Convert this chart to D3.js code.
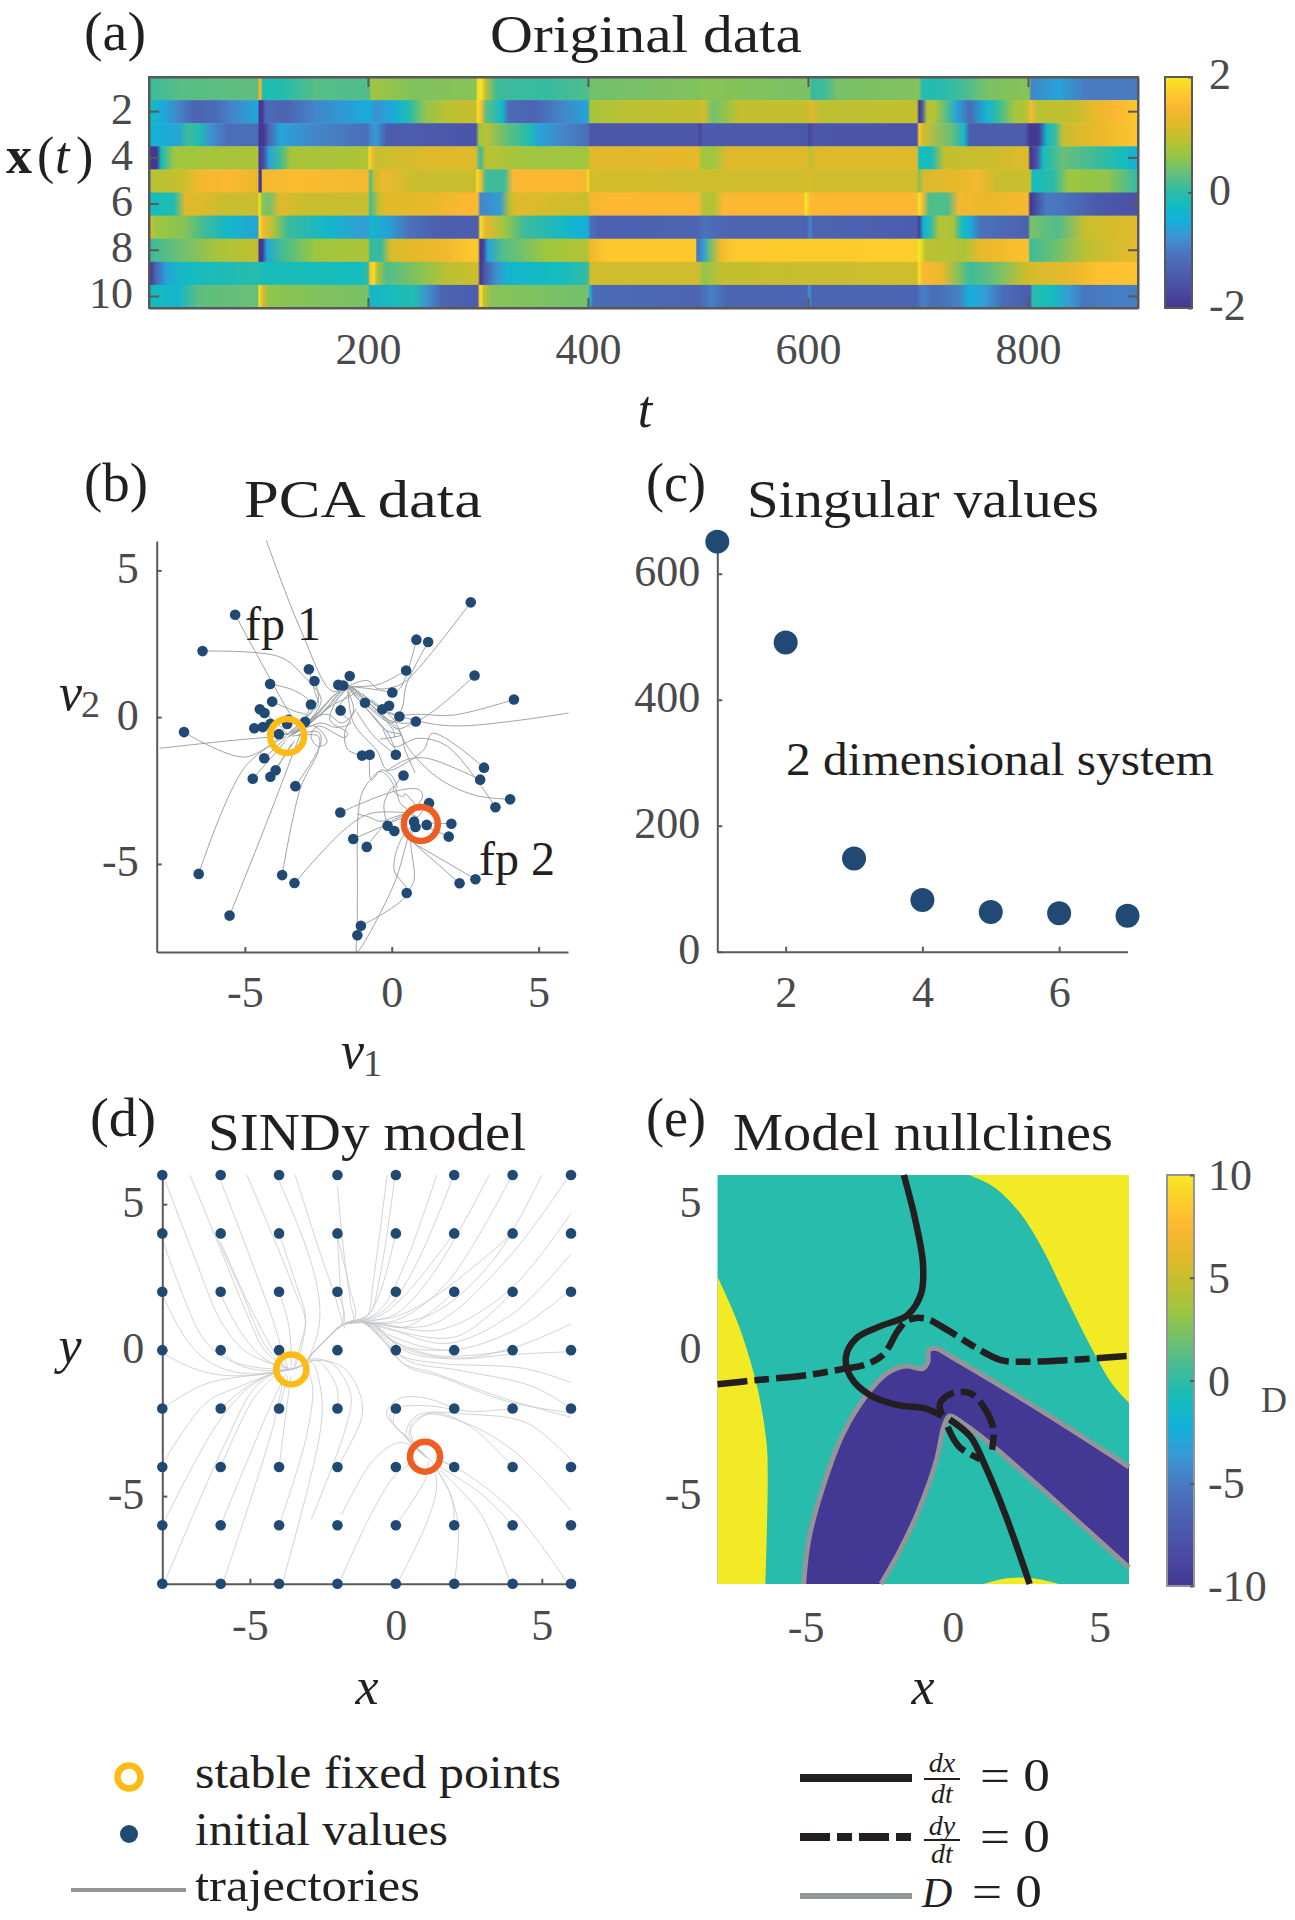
<!DOCTYPE html>
<html>
<head>
<meta charset="utf-8">
<script src="https://cdn.jsdelivr.net/npm/d3@7"></script>
<style>
body { margin: 0; background: #fff; }
text { font-family: "Liberation Serif", serif; }
</style>
</head>
<body>
<div id="chart"></div>
<script>
// panel (a): one [t, value] stop list per state variable, colour between stops is smooth
const row1 = [[1,0.1],[30,0.25],[98,0.3],[99,1.3],[101,1.3],[102,-0.1],[120,-0.1],[150,0.25],[199,0.2],[201,0.7],[240,0.5],[296,0.55],[298,1.9],[301,1.9],[305,0.9],[315,0.1],[360,0.05],[398,0.2],[400,0.4],[450,0.45],[498,0.5],[503,0.55],[600,0.45],[601,0.05],[612,0.1],[625,0.45],[699,0.5],[702,-0.1],[720,-0.05],[745,0.2],[760,0.45],[799,0.55],[801,-0.9],[825,-0.6],[850,-1.0],[900,-1.0]];
const row2 = [[1,-0.2],[10,-0.5],[25,-0.9],[40,-1.3],[60,-1.2],[75,-0.9],[98,-0.55],[99,-2],[102,-2],[105,-1.2],[125,-1.3],[150,-0.9],[199,-0.5],[205,-0.8],[222,-0.5],[235,-0.1],[250,0.6],[270,0.9],[296,1.0],[298,1.9],[301,1.5],[305,0.3],[320,-0.3],[326,-1.2],[350,-1.3],[375,-0.9],[398,-0.6],[400,0.75],[430,0.9],[498,0.95],[503,1.1],[512,0.4],[522,0.6],[535,0.95],[597,0.95],[600,1.2],[610,0.9],[697,0.95],[699,-2],[702,-1.5],[706,0.8],[712,0.9],[725,0.2],[733,-0.6],[745,-1.2],[760,-0.4],[770,0.0],[785,0.7],[798,0.9],[800,1.5],[806,0.9],[840,0.95],[860,1.3],[880,1.5],[900,1.7]];
const row3 = [[1,-0.4],[25,-0.6],[35,0.1],[45,-0.1],[55,-0.8],[70,-1.15],[98,-1.15],[99,-2],[103,-2],[108,-1.3],[118,-0.6],[150,-0.9],[198,-1.15],[200,-0.9],[205,-0.7],[215,-1.4],[260,-1.45],[296,-1.55],[299,0.7],[305,0.9],[325,0.3],[345,-0.1],[352,-0.6],[375,-0.9],[398,-1.15],[400,-1.5],[498,-1.5],[500,-1.8],[502,-1.45],[597,-1.5],[599,-1.8],[603,-1.5],[697,-1.55],[699,1.7],[702,1.1],[730,0.3],[740,-0.3],[745,-1.4],[795,-1.4],[800,-2],[808,-1.9],[815,-0.3],[823,0.1],[830,1.0],[860,1.3],[900,1.65]];
const row4 = [[1,-2],[6,-2],[10,-0.2],[22,0.7],[60,0.75],[98,0.8],[99,-2],[103,-1.7],[108,-0.6],[118,0.1],[128,0.75],[198,0.8],[199,1.9],[202,1.4],[205,1.0],[260,1.2],[296,1.2],[300,0.0],[305,0.9],[340,0.7],[398,0.7],[400,1.2],[498,1.25],[502,0.7],[512,0.7],[525,1.2],[597,1.2],[600,0.9],[605,1.2],[697,1.2],[699,-0.2],[710,-0.2],[722,0.95],[760,1.0],[798,1.2],[800,-2],[806,-1.6],[812,-0.2],[830,0.35],[860,0.1],[885,-0.2],[900,-0.5]];
const row5 = [[1,0.85],[30,1.0],[45,1.4],[70,1.5],[98,1.3],[99,-2],[101,-2],[102,1.4],[130,1.55],[198,1.4],[200,0.2],[204,1.0],[212,1.35],[240,1.0],[296,1.0],[297,1.9],[301,1.3],[305,0.1],[322,0.1],[330,1.5],[380,1.5],[396,1.4],[398,1.9],[400,1.1],[498,1.05],[597,1.05],[600,1.2],[603,1.05],[697,1.05],[699,0.5],[703,1.15],[740,1.3],[752,1.4],[770,1.0],[800,1.0],[802,-0.2],[822,0.0],[835,0.7],[870,0.6],[890,0.2],[900,0.0]];
const row6 = [[1,-0.2],[22,-0.1],[32,1.2],[50,1.15],[65,1.0],[98,1.0],[99,1.95],[102,0.6],[108,0.4],[118,1.2],[140,1.0],[198,1.0],[200,0.1],[208,0.95],[214,1.2],[260,1.3],[285,1.5],[298,1.5],[300,-0.9],[318,-0.7],[327,0.9],[333,1.2],[398,1.0],[400,1.4],[415,1.5],[498,1.5],[503,0.85],[512,0.85],[522,1.5],[594,1.5],[596,2.0],[600,1.5],[697,1.5],[699,2.0],[702,1.5],[708,0.2],[725,0.2],[735,1.4],[760,1.3],[798,1.45],[800,-2],[815,-1.0],[830,-1.1],[860,-1.45],[900,-1.6]];
const row7 = [[1,1.1],[4,0.7],[30,0.55],[50,0.1],[70,-0.3],[98,-0.6],[99,1.9],[103,1.4],[112,0.8],[125,0.1],[160,-0.3],[198,-0.7],[200,-0.3],[215,-0.6],[235,-1.1],[260,-1.35],[298,-1.4],[300,1.9],[305,1.3],[322,0.7],[340,0.1],[380,-0.3],[398,-0.5],[400,-1.1],[408,-1.35],[498,-1.3],[503,-1.1],[525,-1.3],[597,-1.3],[600,-0.9],[603,-1.3],[697,-1.4],[699,-1.9],[703,-0.4],[710,0.0],[717,0.85],[730,0.8],[738,-0.2],[745,-0.5],[755,-1.1],[798,-1.35],[800,0.45],[825,0.2],[850,1.0],[900,1.2]];
const row8 = [[1,0.1],[30,0.4],[60,0.75],[98,0.95],[99,-2],[102,-2],[106,-0.6],[118,0.1],[150,0.7],[198,0.8],[200,0.05],[210,0.05],[218,1.1],[240,1.25],[270,1.4],[290,1.7],[298,1.7],[300,-2],[303,-1.8],[307,-0.6],[320,0.2],[360,0.7],[398,0.85],[400,1.35],[415,1.7],[496,1.7],[497,-1.1],[503,-0.7],[508,0.3],[518,1.35],[530,1.7],[697,1.75],[699,2.0],[705,0.9],[740,0.8],[755,1.3],[798,1.6],[800,0.1],[825,0.4],[850,0.9],[900,1.3]];
const row9 = [[1,-1.9],[5,-1.3],[15,-0.6],[28,-0.25],[98,-0.05],[101,-0.15],[190,-0.2],[198,0.0],[200,1.6],[203,1.9],[206,0.9],[215,0.2],[250,0.6],[270,0.9],[298,1.05],[300,-2],[305,-1.4],[315,-0.8],[325,-0.35],[375,-0.2],[398,0.05],[400,1.05],[498,1.05],[503,0.6],[520,0.95],[697,1.05],[699,1.95],[702,1.5],[720,1.3],[735,0.5],[745,0.1],[770,0.4],[795,1.0],[800,1.1],[840,1.3],[860,1.6],[900,1.65]];
const row10 = [[1,-0.2],[25,-0.35],[45,0.3],[98,0.35],[99,2.0],[102,1.2],[108,0.6],[150,0.5],[198,0.45],[200,-0.3],[240,-0.1],[252,-0.8],[265,-1.3],[298,-1.4],[299,1.5],[301,2.0],[303,1.0],[310,0.55],[398,0.4],[400,-0.5],[403,-1.2],[498,-1.3],[510,-0.95],[525,-1.3],[597,-1.3],[599,-0.7],[602,-1.3],[697,-1.3],[702,-0.95],[712,-1.2],[735,-0.95],[745,-0.45],[760,-0.7],[775,-1.2],[800,-1.4],[802,-0.05],[820,-0.2],[835,-0.7],[850,-1.05],[880,-0.95],[900,-1.0]];
const heatRows = [row1,row2,row3,row4,row5,row6,row7,row8,row9,row10];
const rowIds = [1,2,3,4,5,6,7,8,9,10];
const rowTicks = [2,4,6,8,10];
const timeTicks = [200,400,600,800];

// colour bar stops as seen in the bar (value, colour)
const cmapValues = [-2,-1.7,-1.35,-1.05,-0.76,-0.47,-0.19,0.1,0.39,0.68,0.96,1.25,1.5,1.7,2];
const cmapColors = ["#433792","#4a4aa2","#4c60b0","#4a75be","#3c95d4","#13b0dc","#14bcbc","#3dbb9a","#70c070","#9cc63f","#c4bf2e","#e6b82a","#fcb833","#fdc82c","#f5e923"];

// panel (b)
const pcaDots = [[-5.33,3.49],[2.69,3.91],[-6.44,2.25],[0.84,2.64],[1.24,2.56],[-2.82,1.63],[0.49,1.59],[-2.63,1.23],[-1.43,1.40],[2.82,1.42],[-4.14,1.13],[-1.82,1.10],[-1.65,1.08],[0.02,0.84],[-4.07,0.53],[-2.75,0.43],[-0.91,0.49],[-4.49,0.27],[-4.33,0.14],[4.16,0.60],[-0.09,0.39],[-0.32,0.27],[-1.74,0.23],[0.26,0.02],[0.82,-0.15],[-3.51,-0.09],[-2.95,-0.16],[-4.68,-0.38],[-4.39,-0.34],[-4.13,-0.23],[-3.56,-0.23],[-3.84,-0.58],[-7.07,-0.51],[-4.34,-1.40],[-1.01,-1.31],[-0.75,-1.28],[0.14,-1.28],[3.14,-1.72],[-3.95,-1.81],[-4.73,-2.10],[-4.13,-2.03],[0.40,-1.99],[3.01,-2.13],[-3.28,-2.35],[4.03,-2.80],[1.27,-2.93],[3.53,-3.07],[-1.75,-3.25],[2.03,-3.63],[1.19,-3.67],[0.76,-3.56],[0.81,-3.74],[-0.14,-3.70],[0.09,-3.88],[1.94,-4.07],[-1.31,-4.15],[-0.85,-4.42],[-6.57,-5.34],[-3.73,-5.38],[-3.31,-5.65],[2.85,-5.52],[2.31,-5.66],[0.51,-5.99],[-5.52,-6.76],[-1.05,-7.11],[-1.17,-7.43]];
const pcaPaths = [
  [[-4.27,6.02],[-3.1,2.98],[-2.02,0.88],[-1.5,1.05],[-2.3,0.2],[-3.3,-0.5]],
  [[6.02,0.14],[4,-0.15],[2.3,-0.3],[1.2,-0.2],[-0.3,0.25],[-1.5,1.0],[-2.4,0.1],[-3.4,-0.6]],
  [[-7.9,-1.06],[-5.5,-0.8],[-3.9,-0.64],[-3.3,-0.5]],
  [[-7.07,-0.51],[-5,-1.36],[-3.7,-0.6]],
  [[-6.57,-5.34],[-5,-1.7],[-3.6,-0.65]],
  [[-5.52,-6.76],[-4.3,-3.7],[-3.1,-0.55]],
  [[-3.73,-5.38],[-3.1,-2.4],[-2.5,-1.15],[-2.5,-0.65],[-3.4,-0.65]],
  [[-3.28,-2.35],[-2.6,-1.3],[-2.4,-0.8],[-2.5,-0.5],[-3.2,-0.6]],
  [[-6.44,2.25],[-3.8,2.05],[-3,1.4],[-2.4,0.6],[-2.8,-0.1],[-3.4,-0.55]],
  [[-5.33,3.49],[-3.55,0.25],[-3.2,-0.3]],
  [[-2.82,1.63],[-2.6,0.8],[-2.5,0.45],[-3,-0.1]],
  [[-2.63,1.23],[-2.5,0.6],[-3.1,-0.2]],
  [[-4.14,1.13],[-3.3,0.9],[-2.8,0.5],[-3,-0.1],[-3.5,-0.5]],
  [[-4.07,0.53],[-3.3,0.2],[-2.9,0.05],[-3.5,-0.55]],
  [[-4.49,0.27],[-3.8,-0.3],[-3.55,-0.6]],
  [[-4.68,-0.38],[-3.9,-0.5],[-3.5,-0.6]],
  [[-4.34,-1.4],[-3.6,-0.7]],
  [[-4.73,-2.1],[-3.6,-0.8]],
  [[-4.13,-2.03],[-3.3,-0.8]],
  [[-3.95,-1.81],[-3.4,-0.9]],
  [[-3.56,-0.7],[-2.7,-0.15],[-2,0.55],[-1.5,1.05],[-1.2,0.9],[-2.1,0.35],[-2.9,-0.3],[-3.5,-0.65]],
  [[-3.5,-0.65],[-2.65,-0.3],[-2.2,-0.85],[-2.5,-1],[-2.75,-0.65],[-2.5,-0.3],[-1.6,-0.7],[-1.5,-0.55],[-2.1,-0.1],[-1.85,0.6],[-1.5,1.05]],
  [[-3.3,-0.55],[-2.4,-0.2],[-1.9,-0.35],[-1.4,-0.2],[-1.8,0.3],[-1.3,0.95]],
  [[-2.9,-0.15],[-2.2,0.1],[-1.7,-0.2],[-1.3,0.2],[-1.5,0.9]],
  [[-3.6,-0.62],[-2.8,-0.1],[-2.2,0.5],[-1.7,0.95],[-1.4,1]],
  [[-3.4,-0.6],[-2.7,-0.05],[-2.1,0.6],[-1.6,1],[-1.3,1]],
  [[-3.2,-0.48],[-2.6,0],[-2,0.7],[-1.55,1.05]],
  [[-1.4,1.05],[-0.9,0.6],[-0.4,0.1],[0.05,-0.45],[0.1,-0.7]],
  [[-1.3,1],[-0.8,0.5],[-0.3,0.05],[0.2,-0.4],[0.85,-0.1]],
  [[-1.5,1],[-1,0.45],[-0.5,-0.1],[-0.1,-0.6],[0.15,-1.2]],
  [[2.69,3.91],[0.53,1.27],[0.05,1.02],[-0.5,0.98],[-0.82,1.25],[-1.5,1.05]],
  [[0.84,2.64],[0.3,1],[0,0.84],[-0.3,0.9],[-1,1],[-1.5,1.05]],
  [[1.24,2.56],[0.5,1.1],[0.35,0.3],[0,-0.2],[-0.9,0.45]],
  [[0.49,1.59],[-0.5,1.1],[-1.5,1.05]],
  [[2.82,1.42],[0.82,-0.15],[-0.1,-0.1],[-0.9,0.5],[-1.5,1.05]],
  [[4.16,0.6],[2.1,0.07],[0.9,0.1],[0,0.1],[-1,0.8]],
  [[-1.5,1.05],[-0.5,0.25],[0.3,-0.55],[0.45,-1.1],[0.8,-1.9]],
  [[-1.5,1.05],[-0.7,0.1],[-0.2,-0.45],[0.35,-0.6],[-0.4,-0.75]],
  [[3.14,-1.72],[1.39,-0.55],[1.1,-1.1],[0.5,-1.55],[-0.15,-1.8],[-0.5,-1.15],[-1.3,-0.2],[-1.5,1.05]],
  [[3.01,-2.13],[1.2,-1.4],[0.5,-1.45],[-0.2,-1.85]],
  [[4.03,-2.8],[2.8,-2.65],[1.55,-2.05],[0.53,-1],[0.08,-0.1],[-0.7,0.6]],
  [[3.53,-3.07],[1.9,-1],[0.9,-0.72],[0.08,-1],[-0.3,-0.4]],
  [[0.14,-1.28],[-0.6,-0.66],[-1.2,0.2]],
  [[-1.01,-1.31],[-1.5,-1.1],[-1.6,-0.55],[-1.2,0.3]],
  [[-0.75,-1.28],[-0.7,-2.15],[-0.35,-1.8],[0,-2],[0.2,-2.4]],
  [[-1.75,-3.25],[0.08,-2.53],[0.93,-2.47],[1.05,-2.7],[0.65,-3.28]],
  [[-0.14,-3.7],[-0.26,-2.94],[0.08,-2.36],[0.3,-2.94],[0.76,-3.28]],
  [[0.4,-1.99],[0.05,-2.5],[0.4,-2.7],[0.45,-2.6],[0.95,-3.2]],
  [[-1.31,-4.15],[0.65,-3.3]],
  [[-0.85,-4.42],[-0.26,-3.7],[0.53,-3.28]],
  [[-1.05,-7.11],[0.53,-5.99],[0.08,-5.2],[0.3,-4.2],[0.65,-3.75]],
  [[-1.17,-7.43],[-1.19,-8],[0.08,-5.68],[0.53,-4.2],[0.7,-3.75]],
  [[-1.17,-7.43],[-1.17,-6.1],[-1.05,-2.7],[-0.7,-2.1],[-0.4,-1.85],[-0.1,-2.05],[0.08,-2.36]],
  [[-1.17,-3.3],[-0.78,-3.4],[-0.4,-3.55],[0.1,-3.4],[0.5,-3.3],[0.9,-3.4]],
  [[-3.31,-5.65],[-1.62,-3.84],[-0.72,-3.28],[0.76,-3.28]],
  [[0.51,-5.99],[0.76,-5.55],[0.65,-4.2],[0.76,-3.75]],
  [[2.85,-5.52],[0.76,-4.3]],
  [[2.31,-5.66],[0.76,-4.3]],
  [[2.03,-3.63],[1.1,-3.6]],
  [[1.94,-4.07],[1.1,-3.7]],
  [[1.27,-2.93],[0.8,-3.5]]
];
const pcaFixed = [[-3.56,-0.64],[0.99,-3.64]];

// panel (c)
const svIndex = [1,2,3,4,5,6,7];
const svValues = [651,491,148,82,63,61,57];

// panel (d)
const gridX = [-8,-6,-4,-2,0,2,4,6];
const gridY = [6,4,2,0,-2,-4,-6,-8];
const hubToLeft = [[-1.85,0.85],[-2.4,0.35],[-2.85,-0.1],[-3.15,-0.48],[-3.58,-0.66]];
const modelPaths = [
  [[-7.9,5.8],[-6.9,3.2],[-6,1],[-5.2,0],[-4.3,-0.45],[-3.58,-0.66]],
  [[-8,3.8],[-7.3,1.9],[-6.6,0.4],[-5.8,-0.3],[-4.7,-0.6],[-3.58,-0.66]],
  [[-8,1.9],[-7.2,0.4],[-6.4,-0.4],[-5.2,-0.8],[-3.58,-0.66]],
  [[-8,-0.1],[-7,-0.6],[-6,-0.85],[-4.8,-0.85],[-3.58,-0.66]],
  [[-7.05,6],[-5.9,3.2],[-5,1],[-4.5,0],[-3.9,-0.5],[-3.58,-0.66]],
  [[-6,5.8],[-5,3.2],[-4.2,1],[-3.9,0],[-3.7,-0.6]],
  [[-6.1,3.8],[-5.2,1.8],[-4.5,0.2],[-3.9,-0.5]],
  [[-6,3.7],[-5,1.5],[-4.2,0],[-3.75,-0.6]],
  [[-6,1.9],[-5.3,0.6],[-4.5,-0.3],[-3.7,-0.62]],
  [[-6,0],[-5.4,-0.5],[-4.5,-0.7],[-3.7,-0.66]],
  [[-5.1,6],[-4,3.4],[-3.45,2],[-3.1,1],[-3.3,0.1],[-3.5,-0.6]],
  [[-4,5.8],[-3.1,3.6],[-2.7,2.2],[-2.6,1.2],[-2.7,0.5],[-2.95,-0.2]],
  [[-3.45,6],[-2.55,3.2],[-2.1,1.9],[-1.9,1.2],[-1.75,0.75]],
  [[-4,4],[-3.4,2.2],[-3.1,1.2],[-3.2,0.2],[-3.45,-0.55]],
  [[-4,2],[-3.7,1],[-3.6,0.2],[-3.58,-0.66]],
  [[-2,3.9],[-1.9,2.2],[-1.8,1.1],[-1.95,0.75]],
  [[-2,2],[-1.75,1.2],[-1.8,0.85]],
  [[-2,5.6],[-1.8,3.5],[-1.55,1.6],[-1.46,1],...hubToLeft],
  [[-2,3.9],[-1.6,2.2],[-1.4,1.1],...hubToLeft],
  [[-0.3,6],[-0.77,2.4],[-1,1.15],[-1.46,1],...hubToLeft],
  [[-0.03,5.95],[-0.55,2.5],[-0.9,1.25],[-1.46,1],...hubToLeft],
  [[1.4,6],[0.37,3.1],[-0.43,1.5],[-1.1,1.03],...hubToLeft],
  [[1.97,5.95],[0.6,2.75],[-0.32,1.43],[-1.2,1],...hubToLeft],
  [[3.2,6],[1.28,2.63],[0.03,1.26],[-1,0.97],...hubToLeft],
  [[3.96,5.95],[1.74,2.3],[0.03,1.03],[-1.2,0.95],...hubToLeft],
  [[5,6],[3.35,3.1],[1.28,1.26],[-0.55,0.9],[-1.46,1],...hubToLeft],
  [[5.85,5.85],[3.8,3.1],[1.28,0.9],[-0.77,0.9],[-1.46,1],...hubToLeft],
  [[6,4.7],[3.9,2.06],[1.5,0.7],[-0.55,0.9],[-1.46,1],...hubToLeft],
  [[6,3.3],[4,1.25],[1.73,0.23],[-0.43,0.8],[-1.46,1],...hubToLeft],
  [[5.85,1.95],[4.1,0.7],[1.85,0],[-0.1,0.46],[-1,0.98],...hubToLeft],
  [[6,0.9],[4.13,0.12],[2.08,-0.28],[0.14,0.12],[-0.9,0.92],...hubToLeft],
  [[6,-0.05],[3.8,-0.16],[2.08,-0.3],[0.37,-0.05],[-0.9,0.92],...hubToLeft],
  [[6,-1.1],[4.36,-0.62],[1.5,-0.45],[0.14,-0.17],[-0.66,0.58],[-1.23,0.98],...hubToLeft],
  [[6,-2],[4.7,-1.25],[2.1,-0.68],[0.5,-0.4],[-0.4,0.3],[-1.2,0.98],...hubToLeft],
  [[6,-2.15],[3.8,-1.75],[1.5,-0.9],[0.37,-0.55],[-0.43,0.35],[-1.1,0.95],...hubToLeft],
  [[6,-2.3],[3.7,-1.65],[1.3,-0.78],[0.25,-0.45],[-0.5,0.4],[-1.15,0.97],...hubToLeft],
  [[4,4],[1.5,1.95],[0,1.15],[-1.1,1],...hubToLeft],
  [[2,4],[0.37,1.95],[-0.5,1.2],[-1.2,1],...hubToLeft],
  [[0,4],[-0.55,1.95],[-1,1.15],[-1.46,1],...hubToLeft],
  [[2,2],[0.37,0.8],[-0.9,0.95],...hubToLeft],
  [[4,2],[2.1,0.47],[-0.2,0.7],[-1.1,0.95],...hubToLeft],
  [[4,0],[1.5,-0.2],[-0.1,0.3],[-1.1,0.95],...hubToLeft],
  [[2,0],[0.37,0.1],[-0.77,0.8],[-1.3,1],...hubToLeft],
  [[0,0],[-0.55,0.55],[-1.3,1],...hubToLeft],
  [[-8,-2],[-6.5,-1.15],[-4.4,-0.8],[-3.58,-0.66]],
  [[-7.9,-3.75],[-6.5,-1.8],[-5.35,-1.25],[-4.2,-0.8],[-3.58,-0.66]],
  [[-7.9,-5.8],[-6.1,-2.5],[-5,-1.25],[-4.1,-0.75],[-3.58,-0.66]],
  [[-7.9,-7.9],[-5.9,-3.3],[-4.8,-1.25],[-3.97,-0.7]],
  [[-6,-2],[-5.1,-1.25],[-4.2,-0.8]],
  [[-6,-4],[-4.9,-1.7],[-4.1,-0.8]],
  [[-5.9,-7.9],[-4.2,-2.6],[-3.85,-0.9]],
  [[-6,-6],[-4.2,-1.7],[-3.75,-0.8]],
  [[-4,-4],[-3.6,-0.9]],
  [[-4,-2],[-3.7,-0.9]],
  [[-3.85,-7.85],[-2.6,-2.85],[-2.55,-1.5],[-2.9,-0.4],[-3.3,-0.6]],
  [[-4,-6],[-3.1,-3.1],[-2.85,-1.3],[-3.1,-0.4]],
  [[-2,-4],[-1.17,-2.3],[-1.23,-1.5],[-1.8,-0.6],[-2.95,-0.3],[-3.3,-0.55]],
  [[-2,-2],[-2.03,-1.25],[-2.7,-0.35],[-3.2,-0.55]],
  [[-2.9,-5.8],[-1.7,-2.6],[-1.55,-1.5],[-2.2,-0.45],[-3,-0.35]],
  [[-1.86,-5.65],[-0.77,-3.76],[0.09,-3.17],[0.6,-3.3],[1,-3.65]],
  [[-1.92,-7.93],[-0.77,-5.47],[0.03,-4.23],[0.72,-3.77]],
  [[0.08,-7.93],[1.05,-5.93],[1.4,-4.67],[1.27,-3.87]],
  [[0,-6],[1.05,-4.33],[1.1,-3.8]],
  [[2.02,-7.87],[2.14,-6.04],[1.85,-4.9],[1.4,-4.1]],
  [[2,-6],[1.9,-5],[1.35,-4]],
  [[3.9,-7.93],[2.9,-5.6],[1.5,-4.1]],
  [[4,-6],[2.9,-4.9],[1.5,-4]],
  [[5.85,-7.93],[4.1,-5.6],[2.2,-4.1],[1.5,-3.8]],
  [[2,-4],[1.3,-3.65]],
  [[6,-3.75],[4.5,-2.5],[2.6,-2.2],[0.7,-2.25],[0.35,-2.95],[0.95,-3.6]],
  [[6,-5.5],[4.1,-3.5],[2.4,-2.5],[1.05,-2.2],[0.5,-2.6],[0.7,-3.3],[1,-3.65]],
  [[4,-4],[2.6,-2.65],[1.2,-2.15],[0.45,-2.85],[0.95,-3.6]],
  [[2,-2],[1.05,-1.65],[0.14,-1.65],[-0.32,-2.15],[0.25,-2.9],[1.27,-3.85]],
  [[0,-2],[-0.08,-2.5],[0.48,-3.07],[1.15,-3.75]],
  [[4,-2],[2.6,-2.1],[1,-1.9],[0,-2],[-0.2,-2.3],[0.5,-3.1],[1.1,-3.7]]
];
const modelFixed = [[-3.58,-0.66],[1,-3.65]];

// panel (e): contour lines
const yellowTopRight = [[0.55,6],[1.39,5.6],[2.3,4.69],[3.08,3.43],[3.85,1.83],[4.76,0.01],[5.41,-1.13],[6,-1.8]];
const yellowLeft = [[-8,2.52],[-7.3,0.92],[-6.65,-1.25],[-6.33,-3.19],[-6.29,-4.33],[-6.37,-8]];
const yellowBottom = [[1.07,-8],[1.65,-7.84],[2.3,-7.78],[2.95,-7.84],[3.6,-8]];
const dZeroUpper = [[-5.07,-8],[-4.9,-6.5],[-4.45,-4.79],[-3.73,-2.85],[-2.89,-1.48],[-2.24,-0.79],[-1.59,-0.54],[-1.01,-0.62],[-0.84,-0.39],[-0.81,0.01],[-0.55,0.06],[-0.04,-0.22],[3.08,-2.11],[6,-3.99]];
const dZeroLower = [[6,-7.44],[3.08,-4.79],[1.26,-3.19],[0.35,-2.5],[-0.1,-2.25],[-0.3,-2.62],[-0.55,-3.76],[-1.2,-5.59],[-1.85,-6.96],[-2.44,-8]];
const dxNull1 = [[-1.66,6],[-1.27,4.46],[-1.01,2.97],[-1.07,1.95],[-1.53,1.21],[-2.5,0.81],[-3.28,0.41],[-3.63,-0.22],[-3.47,-0.91],[-2.82,-1.53],[-1.85,-1.88],[-0.94,-1.99],[-0.36,-2.25]];
const dxNull2 = [[-0.1,-2.37],[0.61,-2.96],[1.07,-3.87],[1.78,-5.59],[2.62,-8]];
const dyNull1 = [[-8,-1.16],[-6.65,-1.02],[-4.96,-0.85],[-3.63,-0.62],[-3.02,-0.51],[-2.37,-0.16],[-1.85,0.69],[-1.53,1.03],[-0.94,1.09],[-0.17,0.69],[0.74,0.12],[1.65,-0.34],[2.56,-0.39],[3.85,-0.34],[6,-0.19]];
const dyNull2 = [[-0.36,-2.22],[-0.43,-1.82],[-0.04,-1.48],[0.61,-1.48],[1.13,-2.05],[1.39,-2.73],[1.33,-3.47]];
const dyNull3 = [[-0.17,-2.62],[0.22,-3.3],[0.94,-3.73]];

const axisTicks = [-5,0,5];
const svXTicks = [2,4,6];
const svYTicks = [0,200,400,600];
const heatBarTicks = [-2,0,2];
const dBarTicks = [-10,-5,0,5,10];

const width = 1295, height = 1920;
const ink = "#231f20", axisInk = "#58595b", labelInk = "#4a4a4c";
const dotBlue = "#204a74", amber = "#fdbb13", orange = "#ee5e22", lineGray = "#939598";
const fs = 44, bigFs = 52;
const cellShift = 2; // image cells sit slightly right of their t value

const svg = d3.select("#chart").append("svg")
    .attr("width", width).attr("height", height)
    .style("display", "block");
const defs = svg.append("defs");

const heatColor = d3.scaleLinear().domain(cmapValues).range(cmapColors).clamp(true);

function text(x, y, str, opts = {}) {
    const t = svg.append("text")
        .attr("x", x).attr("y", y)
        .attr("fill", opts.fill || ink)
        .attr("font-size", opts.size || fs)
        .attr("text-anchor", opts.anchor || "start")
        .text(str);
    if (opts.italic) t.attr("font-style", "italic");
    if (opts.bold) t.attr("font-weight", "bold");
    if (opts.len) t.attr("textLength", opts.len).attr("lengthAdjust", "spacingAndGlyphs");
    return t;
}

// shared tick styling: ticks point inside the frame, hyphen minus like the original labels
function styleAxis(g) {
    g.select(".domain").attr("stroke", axisInk).attr("stroke-width", 2);
    g.selectAll(".tick line").attr("stroke", axisInk).attr("stroke-width", 2);
    g.selectAll(".tick text")
        .attr("fill", labelInk)
        .attr("font-size", fs)
        .style("font-family", '"Liberation Serif", serif')
        .filter(function () { return d3.select(this).attr("dy") === "0.32em"; })
        .attr("dy", "0.27em");
    return g;
}

function fraction(cx, top, bottom, barY, a, b) {
    text(cx, top, a, {size: 28, italic: true, anchor: "middle"});
    text(cx, bottom, b, {size: 28, italic: true, anchor: "middle"});
    svg.append("line").attr("x1", cx - 18).attr("x2", cx + 18).attr("y1", barY).attr("y2", barY)
        .attr("stroke", ink).attr("stroke-width", 2);
}

// ---------- (a) original data
const xT = d3.scaleLinear().domain([1, 900]).range([149, 1138]);
const yRow = d3.scaleBand().domain(rowIds).range([77, 308]);

heatRows.forEach((stops, i) => {
    const grad = defs.append("linearGradient")
        .attr("id", "row" + i)
        .attr("gradientUnits", "userSpaceOnUse")
        .attr("x1", xT(1)).attr("x2", xT(900)).attr("y1", 0).attr("y2", 0);
    grad.selectAll("stop").data(stops).join("stop")
        .attr("offset", d => Math.min(1, (d[0] + cellShift - 1) / 899))
        .attr("stop-color", d => heatColor(d[1]));
});
svg.append("g").selectAll("rect").data(rowIds).join("rect")
    .attr("x", xT(1)).attr("width", xT(900) - xT(1))
    .attr("y", d => yRow(d)).attr("height", yRow.bandwidth() + 0.5)
    .attr("fill", (d, i) => `url(#row${i})`);
svg.append("rect").attr("x", xT(1)).attr("y", 77).attr("width", xT(900) - xT(1)).attr("height", 231)
    .attr("fill", "none").attr("stroke", axisInk).attr("stroke-width", 2);

svg.append("g").attr("transform", "translate(0,308)")
    .call(d3.axisBottom(xT).tickValues(timeTicks).tickSizeInner(-10).tickSizeOuter(0).tickPadding(25))
    .call(styleAxis);
svg.append("g").attr("transform", "translate(0,77)")
    .call(d3.axisTop(xT).tickValues(timeTicks).tickSizeInner(-10).tickSizeOuter(0).tickFormat(""))
    .call(styleAxis);
svg.append("g").attr("transform", "translate(149,0)")
    .call(d3.axisLeft(yRow).tickValues(rowTicks).tickSizeInner(-10).tickSizeOuter(0).tickPadding(16))
    .call(styleAxis);
svg.append("g").attr("transform", "translate(1138,0)")
    .call(d3.axisRight(yRow).tickValues(rowTicks).tickSizeInner(-10).tickSizeOuter(0).tickFormat(""))
    .call(styleAxis);

// colour bar of (a)
const yBarA = d3.scaleLinear().domain([-2, 2]).range([308, 77]);
const gradA = defs.append("linearGradient").attr("id", "barA")
    .attr("x1", 0).attr("x2", 0).attr("y1", 1).attr("y2", 0);
gradA.selectAll("stop").data(cmapValues).join("stop")
    .attr("offset", d => (d + 2) / 4)
    .attr("stop-color", d => heatColor(d));
svg.append("rect").attr("x", 1165).attr("y", 77).attr("width", 27).attr("height", 231)
    .attr("fill", "url(#barA)").attr("stroke", axisInk).attr("stroke-width", 2);
svg.append("g").attr("transform", "translate(1192,0)")
    .call(d3.axisRight(yBarA).tickValues(heatBarTicks).tickSizeInner(-4).tickSizeOuter(0).tickPadding(17).tickFormat(String))
    .call(styleAxis)
    .call(g => g.select(".domain").remove());

text(84, 50, "(a)", {size: 54, len: 62});
text(646, 52, "Original data", {anchor: "middle", size: bigFs, len: 312});
text(645, 427, "t", {italic: true, anchor: "middle", size: bigFs});
text(6, 173, "x", {bold: true, size: bigFs});
text(37, 173, "(", {size: bigFs});
text(55, 173, "t", {italic: true, size: bigFs});
text(76, 173, ")", {size: bigFs});

// ---------- (b) PCA data
const xB = d3.scaleLinear().domain([-8, 6]).range([156.7, 568]);
const yB = d3.scaleLinear().domain([-8, 6]).range([952, 541]);

svg.append("g").attr("fill", "none").attr("stroke", "#a0a2a5").attr("stroke-width", 1)
    .selectAll("path").data(pcaPaths).join("path")
    .attr("d", d3.line().curve(d3.curveCatmullRom.alpha(0.5)).x(d => xB(d[0])).y(d => yB(d[1])));

svg.append("g").attr("transform", "translate(0,952)")
    .call(d3.axisBottom(xB).tickValues(axisTicks).tickSizeInner(-5).tickSizeOuter(0).tickPadding(24).tickFormat(String))
    .call(styleAxis);
svg.append("g").attr("transform", "translate(156.7,0)")
    .call(d3.axisLeft(yB).tickValues(axisTicks).tickSizeInner(-5).tickSizeOuter(0).tickPadding(18).tickFormat(String))
    .call(styleAxis);

svg.append("g").attr("fill", dotBlue).selectAll("circle").data(pcaDots).join("circle")
    .attr("cx", d => xB(d[0])).attr("cy", d => yB(d[1])).attr("r", 5.3);
svg.append("g").attr("fill", "none").attr("stroke-width", 6.5).selectAll("circle").data(pcaFixed).join("circle")
    .attr("cx", d => xB(d[0])).attr("cy", d => yB(d[1])).attr("r", 17)
    .attr("stroke", (d, i) => i ? orange : amber);

text(84, 501, "(b)", {size: 54, len: 64});
text(363, 517, "PCA data", {anchor: "middle", size: bigFs, len: 238});
text(245, 640, "fp 1", {size: 48, len: 76});
text(479, 875, "fp 2", {size: 48, len: 76});
text(59, 710, "v", {italic: true, size: bigFs});
text(81, 717, "2", {size: 38, fill: labelInk});
text(341, 1068, "v", {italic: true, size: bigFs});
text(363, 1076, "1", {size: 38, fill: labelInk});

// ---------- (c) singular values
const xC = d3.scaleLinear().domain([1, 7]).range([717.3, 1127.5]);
const yC = d3.scaleLinear().domain([0, 652]).range([951.7, 541]);

svg.append("g").attr("transform", "translate(0,951.7)")
    .call(d3.axisBottom(xC).tickValues(svXTicks).tickSizeInner(-5).tickSizeOuter(0).tickPadding(24).tickFormat(String))
    .call(styleAxis);
svg.append("g").attr("transform", "translate(717.3,0)")
    .call(d3.axisLeft(yC).tickValues(svYTicks).tickSizeInner(-5).tickSizeOuter(0).tickPadding(17).tickFormat(String))
    .call(styleAxis);
svg.append("g").attr("fill", dotBlue).selectAll("circle").data(svIndex).join("circle")
    .attr("cx", d => xC(d)).attr("cy", (d, i) => yC(svValues[i])).attr("r", 12);

text(646, 501, "(c)", {size: 54, len: 60});
text(923, 517, "Singular values", {anchor: "middle", size: bigFs, len: 352});
text(786, 775, "2 dimensional system", {len: 428, size: 46});

// ---------- (d) SINDy model
const xD = d3.scaleLinear().domain([-8, 6]).range([162.3, 571]);
const yD = d3.scaleLinear().domain([-8, 6]).range([1583.7, 1175]);

svg.append("g").attr("fill", "none").attr("stroke", "#c6c8ca").attr("stroke-width", 0.8)
    .selectAll("path").data(modelPaths).join("path")
    .attr("d", d3.line().curve(d3.curveCatmullRom.alpha(0.5)).x(d => xD(d[0])).y(d => yD(d[1])));

svg.append("g").attr("transform", "translate(0,1583.7)")
    .call(d3.axisBottom(xD).tickValues(axisTicks).tickSizeInner(-5).tickSizeOuter(0).tickPadding(25).tickFormat(String))
    .call(styleAxis);
svg.append("g").attr("transform", "translate(162.3,0)")
    .call(d3.axisLeft(yD).tickValues(axisTicks).tickSizeInner(-5).tickSizeOuter(0).tickPadding(18).tickFormat(String))
    .call(styleAxis);

const gridPoints = d3.cross(gridX, gridY);
svg.append("g").attr("fill", dotBlue).selectAll("circle").data(gridPoints).join("circle")
    .attr("cx", d => xD(d[0])).attr("cy", d => yD(d[1])).attr("r", 5.3);
svg.append("g").attr("fill", "none").attr("stroke-width", 6.5).selectAll("circle").data(modelFixed).join("circle")
    .attr("cx", d => xD(d[0])).attr("cy", d => yD(d[1])).attr("r", 15)
    .attr("stroke", (d, i) => i ? orange : amber);

text(90, 1136, "(d)", {size: 54, len: 66});
text(367, 1150, "SINDy model", {anchor: "middle", size: bigFs, len: 318});
text(367, 1704, "x", {italic: true, anchor: "middle", size: bigFs});
text(70, 1363, "y", {italic: true, anchor: "middle", size: bigFs});

// ---------- (e) model nullclines
const xE = d3.scaleLinear().domain([-8, 6]).range([717.5, 1129]);
const yE = d3.scaleLinear().domain([-8, 6]).range([1584, 1175]);
const lineE = d3.line().curve(d3.curveCatmullRom.alpha(0.5)).x(d => xE(d[0])).y(d => yE(d[1]));
const dTeal = "#27bcab", dYellow = "#f2ea24", dIndigo = "#433893";

svg.append("rect").attr("x", xE(-8)).attr("y", yE(6)).attr("width", xE(6) - xE(-8)).attr("height", yE(-8) - yE(6))
    .attr("fill", dTeal);
svg.append("path").attr("fill", dYellow)
    .attr("d", lineE(yellowTopRight) + `L${xE(6)},${yE(6)}Z`);
svg.append("path").attr("fill", dYellow)
    .attr("d", lineE(yellowLeft) + `L${xE(-8)},${yE(-8)}Z`);
svg.append("path").attr("fill", dYellow).attr("d", lineE(yellowBottom) + "Z");
svg.append("path").attr("fill", dIndigo)
    .attr("d", lineE(dZeroUpper) + "L" + lineE(dZeroLower).slice(1) + "Z");
svg.append("path").datum(dZeroUpper).attr("d", lineE).attr("fill", "none").attr("stroke", lineGray).attr("stroke-width", 5);
svg.append("path").datum(dZeroLower).attr("d", lineE).attr("fill", "none").attr("stroke", lineGray).attr("stroke-width", 5);

[dxNull1, dxNull2].forEach(p => {
    svg.append("path").datum(p).attr("d", lineE).attr("fill", "none").attr("stroke", ink).attr("stroke-width", 6.5);
});
[dyNull1, dyNull2, dyNull3].forEach(p => {
    svg.append("path").datum(p).attr("d", lineE).attr("fill", "none").attr("stroke", ink).attr("stroke-width", 6.5)
        .attr("stroke-dasharray", "30 7 15 7");
});

const yBarE = d3.scaleLinear().domain([-10, 10]).range([1586, 1175]);
const gradE = defs.append("linearGradient").attr("id", "barE")
    .attr("x1", 0).attr("x2", 0).attr("y1", 1).attr("y2", 0);
gradE.selectAll("stop").data(cmapValues).join("stop")
    .attr("offset", d => (d + 2) / 4)
    .attr("stop-color", d => heatColor(d));
svg.append("rect").attr("x", 1167).attr("y", 1175).attr("width", 27).attr("height", 411)
    .attr("fill", "url(#barE)").attr("stroke", lineGray).attr("stroke-width", 2);
svg.append("g").attr("transform", "translate(1194,0)")
    .call(d3.axisRight(yBarE).tickValues(dBarTicks).tickSizeInner(-4).tickSizeOuter(0).tickPadding(14).tickFormat(String))
    .call(styleAxis)
    .call(g => g.select(".domain").remove())
    .call(g => g.selectAll(".tick text").attr("dy", "0.33em"));

svg.append("g").attr("transform", "translate(0,1584)")
    .call(d3.axisBottom(xE).tickValues(axisTicks).tickSize(0).tickPadding(27).tickFormat(String))
    .call(styleAxis)
    .call(g => g.select(".domain").remove());
svg.append("g").attr("transform", "translate(717.5,0)")
    .call(d3.axisLeft(yE).tickValues(axisTicks).tickSize(0).tickPadding(16).tickFormat(String))
    .call(styleAxis)
    .call(g => g.select(".domain").remove());

text(646, 1136, "(e)", {size: 54, len: 60});
text(923, 1150, "Model nullclines", {anchor: "middle", size: bigFs, len: 380});
text(923, 1704, "x", {italic: true, anchor: "middle", size: bigFs});
text(1261, 1412, "D", {size: 36, fill: labelInk});

// ---------- legends
svg.append("circle").attr("cx", 129).attr("cy", 1777).attr("r", 11.5)
    .attr("fill", "none").attr("stroke", amber).attr("stroke-width", 6.5);
svg.append("circle").attr("cx", 129).attr("cy", 1834).attr("r", 9).attr("fill", dotBlue);
svg.append("line").attr("x1", 71).attr("x2", 186).attr("y1", 1890).attr("y2", 1890)
    .attr("stroke", lineGray).attr("stroke-width", 4);
text(195, 1788, "stable fixed points", {size: 46, len: 366});
text(195, 1845, "initial values", {size: 46, len: 253});
text(195, 1901, "trajectories", {size: 46, len: 225});

svg.append("line").attr("x1", 800).attr("x2", 912).attr("y1", 1778).attr("y2", 1778)
    .attr("stroke", ink).attr("stroke-width", 8);
svg.append("line").attr("x1", 800).attr("x2", 912).attr("y1", 1837).attr("y2", 1837)
    .attr("stroke", ink).attr("stroke-width", 8).attr("stroke-dasharray", "30 7 15 7");
svg.append("line").attr("x1", 800).attr("x2", 912).attr("y1", 1896).attr("y2", 1896)
    .attr("stroke", lineGray).attr("stroke-width", 6);

fraction(942, 1772, 1803, 1779, "dx", "dt");
text(980, 1791, "= 0", {size: 46, len: 70});
fraction(942, 1835, 1863, 1840, "dy", "dt");
text(980, 1852, "= 0", {size: 46, len: 70});
text(922, 1907, "D", {italic: true, size: 42});
text(972, 1907, "= 0", {size: 46, len: 70});
</script>
</body>
</html>
